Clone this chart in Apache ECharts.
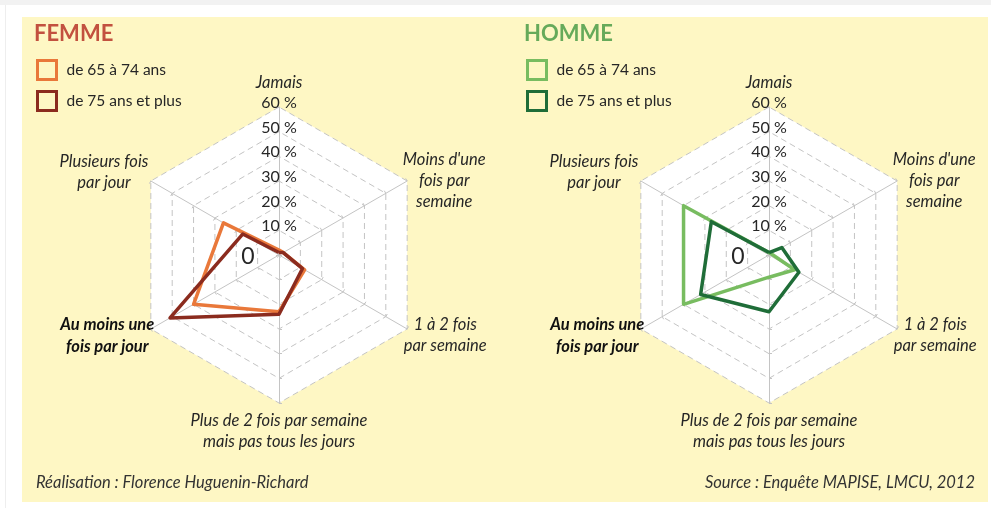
<!DOCTYPE html>
<html>
<head>
<meta charset="utf-8">
<script src="https://cdn.jsdelivr.net/npm/echarts@6/dist/echarts.min.js"></script>
<style>
  html, body { margin: 0; padding: 0; background: #fff; }
  #wrap { position: relative; width: 991px; height: 508px; overflow: hidden; }
  #topband { position: absolute; left: 0; top: 0; width: 991px; height: 5px; background: #f2f2f2; }
  #leftline { position: absolute; left: 5px; top: 5px; width: 1px; height: 503px; background: #eeeeee; }
  #panel { position: absolute; left: 22px; top: 17px; width: 966px; height: 485px; background: #fef7c4; }
  #chart { position: absolute; left: 0; top: 0; width: 991px; height: 508px; }
</style>
</head>
<body>
<div id="wrap">
  <div id="topband"></div>
  <div id="leftline"></div>
  <div id="panel"></div>
  <div id="chart"></div>
</div>
<script>
// axes in clockwise order, starting at the top
var axes = [
  'Jamais',
  "Moins d'une\nfois par\nsemaine",
  '1 à 2 fois\npar semaine',
  'Plus de 2 fois par semaine\nmais pas tous les jours',
  'Au moins une\nfois par jour',
  'Plusieurs fois\npar jour'
];
var ageGroups = ['de 65 à 74 ans', 'de 75 ans et plus'];
var femme65 = [2, 2, 12, 23, 40, 26];
var femme75 = [1, 2, 11, 24, 51, 17];
var homme65 = [1, 1, 12, 9, 40, 40];
var homme75 = [1, 6, 14, 23, 32, 27];
var maxValue = 60;

(function() {
  var font = 'Lato, "Open Sans", sans-serif';
  var ink = '#262626';
  var orange = '#e9783a';
  var darkRed = '#8b2b1e';
  var lightGreen = '#78bc60';
  var darkGreen = '#1f6d38';

  var chart = echarts.init(document.getElementById('chart'), null, { renderer: 'canvas' });

  // echarts lays indicators out counter-clockwise, so walk the axes backwards after the first
  var order = [0, 5, 4, 3, 2, 1];
  function reorder(arr) { return order.map(function(i) { return arr[i]; }); }

  // per-axis placement of the names (clockwise order), Excel puts them around the corners
  var nameGaps = [14, -5, -4, 7, -4, -4];
  var namePads = [[0, 0, 0, 0], [0, 0, 6, 0], [16, 0, 0, 0], [0, 0, 0, 0], [18, 0, 0, 0], [0, 6, 22, 0]];

  function makeIndicators() {
    return order.map(function(i, k) {
      var ind = { name: axes[i], max: maxValue, min: 0, nameGap: nameGaps[i], nameTextStyle: { padding: namePads[i] } };
      if (k === 0) {
        ind.axisLabel = {
          show: true,
          align: 'center',
          verticalAlign: 'middle',
          margin: 0,
          padding: [0, 0, 8, 0],
          fontFamily: font,
          fontSize: 16,
          color: ink,
          formatter: function(v) { return v === 0 ? '{z|0}' : v + ' %'; },
          rich: {
            z: { fontFamily: font, fontSize: 23, color: ink, padding: [12, 62, 0, 0] }
          }
        };
      }
      return ind;
    });
  }

  function makeRadar(cx) {
    return {
      center: [cx, 255],
      radius: 148,
      startAngle: 90,
      shape: 'polygon',
      splitNumber: 6,
      indicator: makeIndicators(),
      axisName: {
        color: ink,
        fontFamily: font,
        fontSize: 16,
        fontStyle: 'italic',
        lineHeight: 21,
        formatter: function(name) {
          var st = name.indexOf('Au moins') === 0 ? 'b' : 'c';
          return name.split('\n').map(function(l) { return '{' + st + '|' + l + '}'; }).join('\n');
        },
        rich: {
          c: { align: 'center', fontFamily: font, fontSize: 16.5, fontStyle: 'italic', color: ink, lineHeight: 21 },
          b: { align: 'center', fontFamily: font, fontSize: 16.5, fontStyle: 'italic', fontWeight: 'bold', color: '#111', lineHeight: 22 }
        }
      },
      axisLabel: { show: false },
      axisTick: { show: true, length: 3, lineStyle: { color: '#c4c4c4' } },
      axisLine: { lineStyle: { color: '#c4c4c4', width: 1 } },
      splitLine: { lineStyle: { color: '#c4c4c4', type: [6, 4], width: 1 } },
      splitArea: { show: true, areaStyle: { color: ['#ffffff'] } }
    };
  }

  function legendFor(left, top, colors) {
    return {
      left: left,
      top: top,
      orient: 'vertical',
      padding: 0,
      itemWidth: 19,
      itemHeight: 19,
      itemGap: 9,
      icon: 'rect',
      selectedMode: false,
      textStyle: { fontFamily: font, fontSize: 15.5, color: ink, padding: [0, 0, 0, 5] },
      data: ageGroups.map(function(g, i) {
        return { name: g, itemStyle: { color: 'rgba(0,0,0,0)', borderColor: colors[i], borderWidth: 3 } };
      })
    };
  }

  function item(name, values, color) {
    return {
      name: name,
      value: reorder(values),
      symbol: 'none',
      lineStyle: { color: color, width: 3.5 },
      itemStyle: { color: color }
    };
  }

  var footStyle = { fontFamily: font, fontSize: 16.5, fontStyle: 'italic', fontWeight: 'normal', color: '#333' };

  chart.setOption({
    animation: false,
    textStyle: { fontFamily: font },
    title: [
      { text: 'FEMME', left: 34, top: 23, padding: 0, textStyle: { fontFamily: font, fontSize: 22, fontWeight: 'bold', color: '#c2513f' } },
      { text: 'HOMME', left: 524, top: 23, padding: 0, textStyle: { fontFamily: font, fontSize: 22, fontWeight: 'bold', color: '#66aa5a' } },
      { text: 'Réalisation : Florence Huguenin-Richard', left: 36, top: 474, padding: 0, textStyle: footStyle },
      { text: 'Source : Enquête MAPISE, LMCU, 2012', right: 16, top: 474, padding: 0, textStyle: footStyle }
    ],
    legend: [
      legendFor(36, 59, [orange, darkRed]),
      legendFor(526, 59, [lightGreen, darkGreen])
    ],
    radar: [makeRadar(279), makeRadar(769)],
    series: [
      {
        type: 'radar',
        radarIndex: 0,
        data: [item(ageGroups[0], femme65, orange), item(ageGroups[1], femme75, darkRed)]
      },
      {
        type: 'radar',
        radarIndex: 1,
        data: [item(ageGroups[0], homme65, lightGreen), item(ageGroups[1], homme75, darkGreen)]
      }
    ]
  });
  window.addEventListener('resize', function() { chart.resize(); });
})();
</script>
</body>
</html>
